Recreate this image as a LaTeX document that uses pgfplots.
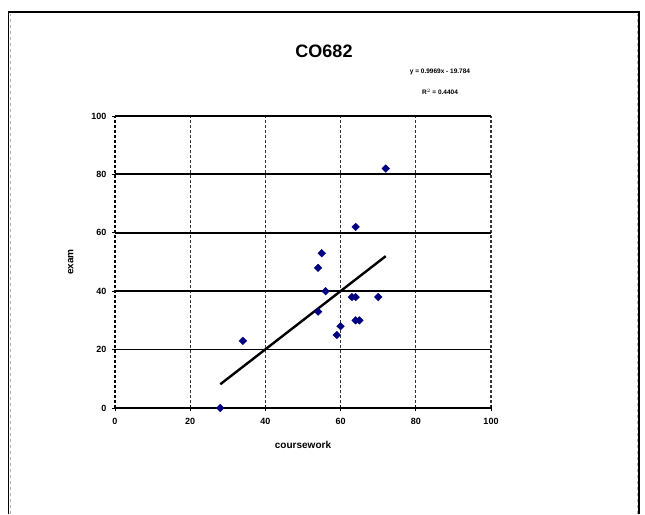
\documentclass[border=0pt]{standalone}
\usepackage{pgfplots}
\pgfplotsset{compat=1.18}
\usepackage{fontspec}
\setmainfont{Liberation Sans}
\definecolor{marknavy}{HTML}{000080}

\begin{document}
\begin{tikzpicture}[x=1pt,y=1pt]
  \path[use as bounding box] (0,0) rectangle (645,514);
  % outer chart frame (bottom is cut off)
  \draw[line width=1.8pt] (8.5,0) -- (8.5,502) -- (639,502) -- (639,0);
  \draw[gray!60, dashed, line width=0.8pt] (10.5,0) -- (10.5,500);
  \draw[gray!60, dashed, line width=0.8pt] (637,0) -- (637,500);

  \begin{axis}[
    at={(115pt,106pt)}, anchor=south west,
    scale only axis, width=376pt, height=292pt,
    xmin=0, xmax=100, ymin=0, ymax=100,
    xtick={0,20,...,100}, ytick={0,20,...,100},
    axis x line=bottom, axis y line=left,
    x axis line style={-, line width=2pt},
    y axis line style={-, dash pattern=on 3pt off 2pt, line width=1.2pt},
    grid=major,
    x grid style={dash pattern=on 3pt off 2pt, black!80, line width=1.3pt},
    y grid style={black, line width=1.8pt},
    tick align=center, major tick length=6pt,
    tick style={black, line width=0.9pt},
    tick label style={font=\fontsize{9}{10}\selectfont\bfseries},
    /pgf/number format/assume math mode=true,
    xticklabel style={yshift=-4pt},
    yticklabel style={xshift=-2pt},
    xlabel={coursework}, ylabel={exam},
    label style={font=\fontsize{10}{12}\selectfont\bfseries},
    xlabel style={at={(axis description cs:0.5,0)}, anchor=north, yshift=-30pt},
    ylabel style={at={(axis description cs:0,0.5)}, anchor=south, yshift=38pt},
    clip=false,
  ]
    \addplot[only marks, mark=diamond*, mark size=3.8pt, color=marknavy,
      mark options={xscale=1.35}]
      coordinates {
        (72,82) (64,62) (55,53) (54,48) (56,40) (63,38) (64,38) (70,38)
        (54,33) (64,30) (65,30) (60,28) (59,25) (34,23) (28,0)
      };
    \addplot[black, line width=2.4pt, no marks]
      coordinates {(28,8.13) (72,52.0)};
  \end{axis}

  \node[font=\fontsize{18}{20}\selectfont\bfseries] at (324,463) {CO682};
  \node[font=\fontsize{6.5}{7}\selectfont\bfseries] at (440,442) {y = 0.9969x - 19.784};
  \node[font=\fontsize{6.5}{7}\selectfont\bfseries] at (440,422) {R$^2$ = 0.4404};
\end{tikzpicture}
\end{document}
